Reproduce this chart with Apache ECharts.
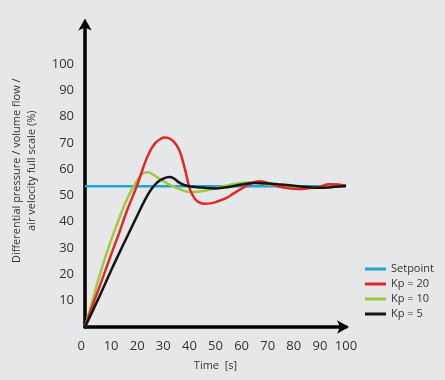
<!DOCTYPE html>
<html><head><meta charset="utf-8">
<script src="https://cdn.jsdelivr.net/npm/echarts@6/dist/echarts.min.js"></script>
<style>html,body{margin:0;padding:0;background:#e6e7e9;}#c{width:445px;height:380px;}</style>
</head><body><div id="c"></div>
<script>
var seriesNames = ['Setpoint', 'Kp = 20', 'Kp = 10', 'Kp = 5'];
var setpoint = [[0, 53.5], [100, 53.5]];
var kp20 = [[0,0],[3,8.5],[6,16.5],[10,27.5],[13,35.5],[16,44],[20,54],[23,62.5],[25,67],[27,70],[29,71.5],[30.5,72],[32,71.8],[34,70.5],[36,67.5],[37.5,63],[38.8,58],[40,53],[41.3,50],[43,47.8],[45.5,46.9],[48,47],[51,47.8],[54,49],[57,50.8],[60,52.6],[63,54.3],[66.8,55.4],[70,54.8],[74,53.5],[78,52.7],[82,52.5],[86,52.8],[90,53.3],[93.5,54.3],[97,54.2],[100,53.7]];
var kp10 = [[0,0],[3,10.5],[6,21],[10,33],[13,41],[16,48.5],[19,54],[22,58.3],[24,58.8],[26,58],[28.6,56.3],[32,54.3],[36,52.5],[40,51.3],[44,51.5],[48,52.3],[52,53.2],[56,54.2],[60,54.8],[64,55],[68,54.5],[72,54],[76,53.6],[80,53.3],[85,53],[90,53.3],[95,53.6],[100,53.8]];
var kp5 = [[0,0],[5,10.5],[10,21.5],[15,32],[18,38.2],[20,42.3],[22.3,47],[25,51.8],[27.5,54.8],[30,56.4],[32.4,57],[34,56.5],[36,55],[38,54],[41,53.3],[45,53],[50,52.7],[55,53.2],[60,54.2],[65,54.7],[70,54.6],[75,54.2],[80,53.7],[85,53.2],[90,52.9],[95,53.2],[100,53.6]];
var xTicks = [0,10,20,30,40,50,60,70,80,90,100];
var yTicks = [10,20,30,40,50,60,70,80,90,100];
var colors = ['#1fa3d8', '#e2262a', '#9dcb3b', '#151515'];

var chart = echarts.init(document.getElementById('c'), null, {renderer: 'canvas'});
var font = 'Open Sans';
function mk(name, data, color, z) {
  return {name: name, type: 'line', data: data, symbol: 'none', showSymbol: false, smooth: 0.4, z: z,
    lineStyle: {color: color, width: 2.5}, itemStyle: {color: color}};
}
chart.setOption({
  backgroundColor: '#e6e7e9',
  animation: false,
  grid: {left: 85, right: 99, top: 24.5, bottom: 53, outerBoundsMode: 'none', containLabel: false},
  legend: {
    orient: 'vertical', left: 360, top: 257, itemWidth: 21, itemHeight: 3, itemGap: 1,
    icon: 'rect',
    data: seriesNames,
    textStyle: {fontFamily: font, fontSize: 11, color: '#333', lineHeight: 14}
  },
  xAxis: {
    type: 'value', min: 0, max: 100, interval: 10,
    name: 'Time  [s]', nameLocation: 'middle', nameGap: 33,
    nameTextStyle: {fontFamily: font, fontSize: 11, color: '#333'},
    axisLine: {lineStyle: {color: '#000', width: 3.5}, symbol: ['none', 'arrow'], symbolSize: [10, 12], symbolOffset: [0, 3]},
    axisTick: {show: false}, splitLine: {show: false},
    axisLabel: {fontFamily: font, fontSize: 13, color: '#333', margin: 13, alignMinLabel: 'right',
      formatter: function (v) { return xTicks.indexOf(v) >= 0 ? String(v) : ''; }}
  },
  yAxis: {
    type: 'value', min: 0, max: 115, interval: 10,
    name: 'Differential pressure / volume flow /\nair velocity full scale (%)',
    nameLocation: 'middle', nameGap: 46,
    nameTextStyle: {fontFamily: font, fontSize: 11, color: '#333', lineHeight: 15, padding: [0, 0, 0, 10]},
    axisLine: {lineStyle: {color: '#000', width: 3.5}, symbol: ['none', 'arrow'], symbolSize: [10, 12], symbolOffset: [0, 6]},
    axisTick: {show: false}, splitLine: {show: false},
    axisLabel: {fontFamily: font, fontSize: 13, color: '#333', margin: 11,
      formatter: function (v) { return yTicks.indexOf(v) >= 0 ? String(v) : ''; }}
  },
  series: [
    mk(seriesNames[0], setpoint, colors[0], 1),
    mk(seriesNames[2], kp10, colors[2], 2),
    mk(seriesNames[1], kp20, colors[1], 3),
    mk(seriesNames[3], kp5, colors[3], 4)
  ]
});
</script></body></html>
